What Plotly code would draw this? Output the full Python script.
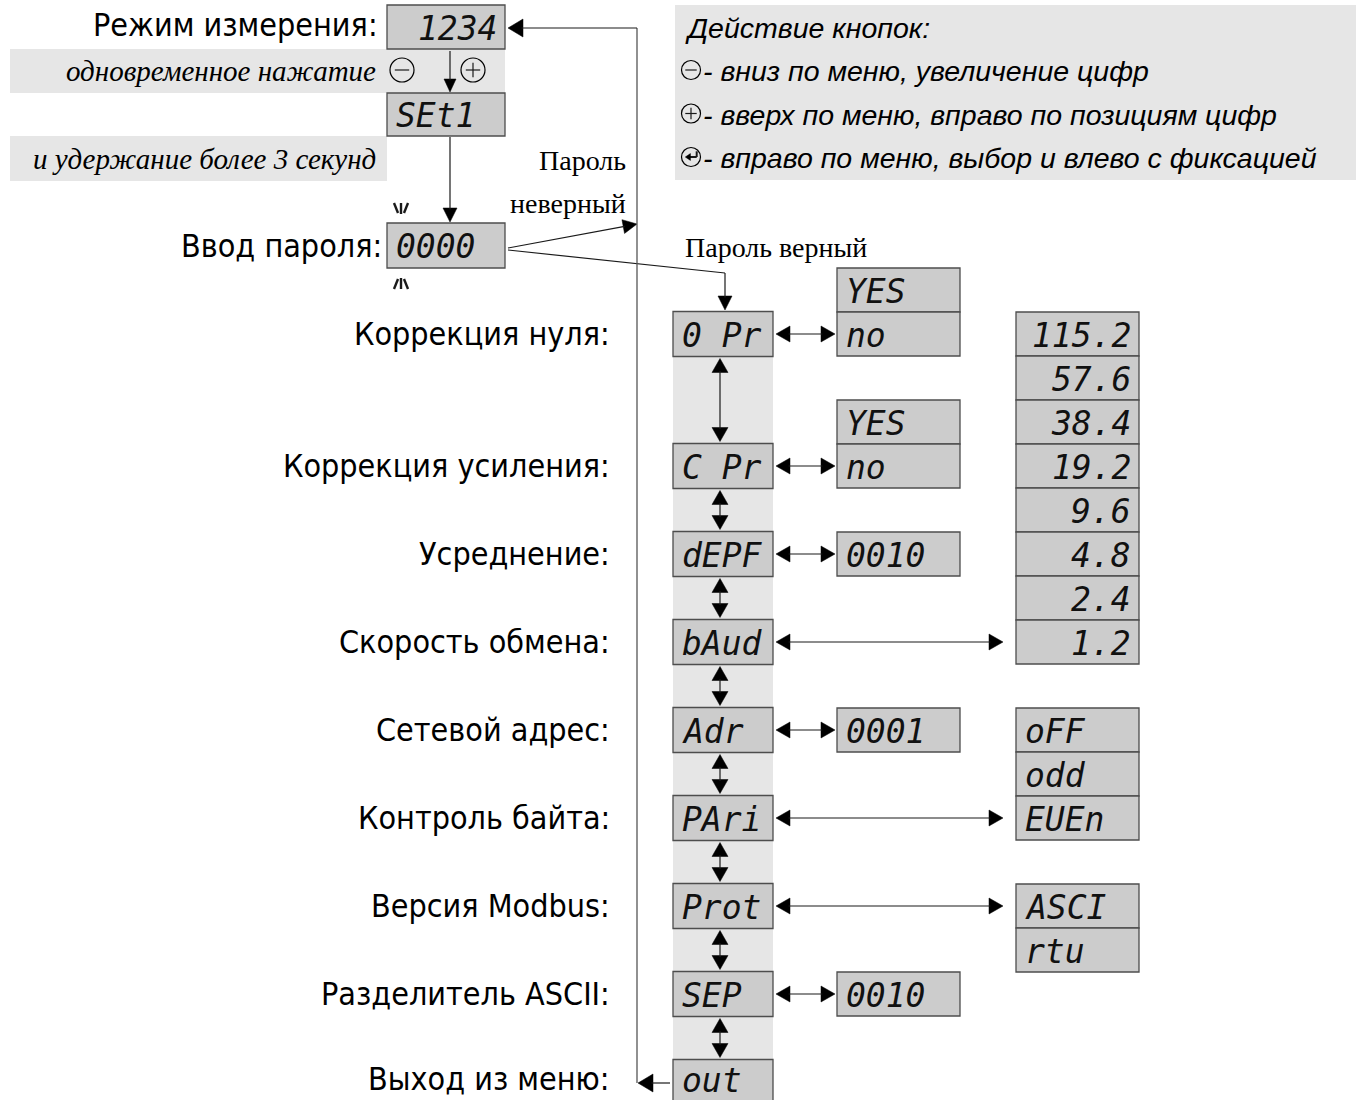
import plotly.graph_objects as go

# ------------------------------------------------------------------ data
top_labels = ["Режим измерения:", "Ввод пароля:"]
top_codes = ["1234", "SEt1", "0000"]
hint_lines = ["одновременное нажатие", "и удержание более 3 секунд"]
password_wrong = ["Пароль", "неверный"]
password_ok = "Пароль верный"

legend_title = "Действие кнопок:"
legend_lines = [
    "- вниз по меню, увеличение цифр",
    "- вверх по меню, вправо по позициям цифр",
    "- вправо по меню, выбор и влево с фиксацией",
]

menu_labels = [
    "Коррекция нуля:",
    "Коррекция усиления:",
    "Усреднение:",
    "Скорость обмена:",
    "Сетевой адрес:",
    "Контроль байта:",
    "Версия Modbus:",
    "Разделитель ASCII:",
    "Выход из меню:",
]
menu_codes = ["0 Pr", "C Pr", "dEPF", "bAud", "Adr", "PAri", "Prot", "SEP", "out"]

yes_no = ["YES", "no"]
averaging_default = ["0010"]
address_default = ["0001"]
separator_default = ["0010"]
baud_rates = ["115.2", "57.6", "38.4", "19.2", "9.6", "4.8", "2.4", "1.2"]
parity_modes = ["oFF", "odd", "EUEn"]
protocols = ["ASCI", "rtu"]

# ------------------------------------------------------------------ layout
W, H = 1356, 1100
BAND = "#e6e6e6"
BOXF = "#cccccc"
BOXL = "#4d4d4d"
LINE = "#1a1a1a"

SANS_N = "Liberation Sans Narrow, Arial Narrow, DejaVu Sans Condensed, sans-serif"
SANS = "Liberation Sans, Arial, sans-serif"
SERIF = "Liberation Serif, Times New Roman, serif"
SEG = "DejaVu Sans Mono, monospace"
LAB_SIZE = 32
SEG_SIZE = 33

shapes = []
annos = []


def rect(x0, y0, x1, y1, fill, line=None, lw=1.3):
    shapes.append(dict(type="rect", x0=x0, y0=y0, x1=x1, y1=y1, fillcolor=fill,
                       line=dict(color=line if line else fill, width=lw if line else 0),
                       layer="below"))


def seg(x0, y0, x1, y1, lw=1.2, color=LINE):
    shapes.append(dict(type="line", x0=x0, y0=y0, x1=x1, y1=y1,
                       line=dict(color=color, width=lw)))


def head(tx, ty, ux, uy, L=14, hw=7):
    bx, by = tx - ux * L, ty - uy * L
    px, py = -uy * hw, ux * hw
    path = f"M {tx},{ty} L {bx+px},{by+py} L {bx-px},{by-py} Z"
    shapes.append(dict(type="path", path=path, fillcolor="#000",
                       line=dict(color="#000", width=0.5)))


def arrow(x0, y0, x1, y1, start=False, end=True, L=14, hw=7, lw=1.2):
    dx, dy = x1 - x0, y1 - y0
    n = (dx * dx + dy * dy) ** 0.5
    ux, uy = dx / n, dy / n
    sx, sy, ex, ey = x0, y0, x1, y1
    if end:
        head(x1, y1, ux, uy, L, hw)
        ex, ey = x1 - ux * L * 0.9, y1 - uy * L * 0.9
    if start:
        head(x0, y0, -ux, -uy, L, hw)
        sx, sy = x0 + ux * L * 0.9, y0 + uy * L * 0.9
    seg(sx, sy, ex, ey, lw)


def text(x, y, s, size, family, anchor="right", color="#000", italic=False):
    if italic:
        s = f"<i>{s}</i>"
    annos.append(dict(x=x, y=y, text=s, showarrow=False, xanchor=anchor, yanchor="middle",
                      font=dict(size=size, family=family, color=color)))


def display(x0, y0, x1, y1, s, align="left", dy=1):
    rect(x0, y0, x1, y1, BOXF, BOXL, 1.3)
    if align == "left":
        text(x0 + 7, (y0 + y1) / 2 + dy, s, SEG_SIZE, SEG, "left", color="#111", italic=True)
    else:
        text(x1 - 6, (y0 + y1) / 2 + dy, s, SEG_SIZE, SEG, "right", color="#111", italic=True)


def circle_icon(cx, cy, r, kind, lw=1.2):
    shapes.append(dict(type="circle", x0=cx - r, y0=cy - r, x1=cx + r, y1=cy + r,
                       line=dict(color="#000", width=lw)))
    k = r * 0.6
    if kind in ("minus", "plus"):
        seg(cx - k, cy, cx + k, cy, lw)
    if kind == "plus":
        seg(cx, cy - k, cx, cy + k, lw)
    if kind == "enter":
        seg(cx - k * 0.3, cy, cx + k, cy, 2)
        seg(cx + k, cy, cx + k, cy - k, 2)
        head(cx - k, cy, -1, 0, L=k * 0.9, hw=k * 0.6)


# ---- backgrounds
rect(10, 49, 505, 93, BAND)
rect(10, 136, 387, 181, BAND)
rect(675, 5, 1356, 180, BAND)
MX0, MX1 = 673, 773
rect(MX0, 312, MX1, 1100, BAND)

# ---- top section
display(387, 5, 505, 49, top_codes[0], align="right")
display(387, 93, 505, 136, top_codes[1])
display(387, 223, 505, 268, top_codes[2])
text(380, 25, top_labels[0], LAB_SIZE, SANS_N)
text(384, 246, top_labels[1], LAB_SIZE, SANS_N)
text(378, 71, hint_lines[0], 29, SERIF, italic=True)
text(378, 159, hint_lines[1], 29, SERIF, italic=True)
circle_icon(402, 70, 12, "minus")
circle_icon(473, 70, 12, "plus")
arrow(450, 51, 450, 92, L=13, hw=6)
arrow(450, 137, 450, 222)
# blinking marks
for sgn, yb in ((1, 203), (-1, 289)):
    seg(401, yb, 401, yb + sgn * 11, 2.4)
    seg(394, yb, 398, yb + sgn * 10, 2.4)
    seg(408, yb, 404, yb + sgn * 10, 2.4)

# password branches
text(628, 160, password_wrong[0], 28, SERIF)
text(628, 203, password_wrong[1], 28, SERIF)
arrow(508, 248, 637, 224)
seg(508, 250, 725, 273)
arrow(725, 273, 725, 310)
text(683, 247, password_ok, 28, SERIF, "left")

# exit loop line
seg(637, 28, 637, 1083, 1.3, "#555")
arrow(637, 28, 508, 28, L=15, hw=9)
arrow(670, 1083, 638, 1083, L=15, hw=9)

# ---- legend
text(683, 28, legend_title, 28.5, SANS, "left", italic=True)
for i, s in enumerate(legend_lines):
    y = 71 + i * 43.5
    circle_icon(691, y - 1, 9.5, ["minus", "plus", "enter"][i], 1.2)
    text(701, y, s, 28.5, SANS, "left", italic=True)

# ---- menu column
ROW0, STEP = 334, 88
ROW_SLOTS = [0, 1.5, 2.5, 3.5, 4.5, 5.5, 6.5, 7.5, 8.5]
BH = 45
CH = 44
NX0, NX1 = 837, 960
FX0, FX1 = 1016, 1139

centers = [ROW0 + STEP * s for s in ROW_SLOTS]
for i, (lab, code, cy) in enumerate(zip(menu_labels, menu_codes, centers)):
    last = i == len(menu_codes) - 1
    text(612, cy - (3 if last else 0), lab, LAB_SIZE, SANS_N)
    display(MX0, cy - BH / 2, MX1, cy + BH / 2, code, dy=(-2 if last else 1))

# vertical double arrows
for a, b in zip(centers[:-1], centers[1:]):
    arrow(720, a + BH / 2 + 2, 720, b - BH / 2 - 2, start=True, end=True, L=14, hw=8)

near = [(0, yes_no, 1), (1, yes_no, 1), (2, averaging_default, 0),
        (4, address_default, 0), (7, separator_default, 0)]
far = [(3, baud_rates, 7, "right"), (5, parity_modes, 2, "left"), (6, protocols, 0, "left")]

for idx, vals, k in near:
    cy = centers[idx]
    top = cy - CH / 2 - k * CH
    for j, v in enumerate(vals):
        display(NX0, top + j * CH, NX1, top + (j + 1) * CH, v)
    arrow(776, cy, 835, cy, start=True, end=True, L=14, hw=8)

for idx, vals, k, al in far:
    cy = centers[idx]
    top = cy - CH / 2 - k * CH
    for j, v in enumerate(vals):
        display(FX0, top + j * CH, FX1, top + (j + 1) * CH, v, al)
    arrow(776, cy, 1003, cy, start=True, end=True, L=14, hw=8)

fig = go.Figure()
fig.update_layout(
    width=W, height=H, margin=dict(l=0, r=0, t=0, b=0),
    paper_bgcolor="white", plot_bgcolor="white",
    xaxis=dict(range=[0, W], visible=False, fixedrange=True),
    yaxis=dict(range=[H, 0], visible=False, fixedrange=True),
    shapes=shapes, annotations=annos, showlegend=False,
)
fig.write_html("out.html", config={"displayModeBar": False},
               post_script="document.body.style.margin='0';document.body.style.overflow='hidden';")
